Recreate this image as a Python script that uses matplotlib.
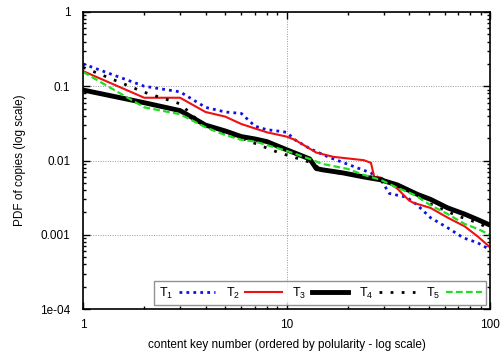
import matplotlib
matplotlib.use("Agg")
import matplotlib.pyplot as plt
from matplotlib.ticker import LogLocator, FixedLocator, FixedFormatter, NullFormatter

plt.rcParams["font.family"] = ["Liberation Sans", "DejaVu Sans"]
plt.rcParams["mathtext.fontset"] = "custom"
plt.rcParams["mathtext.rm"] = "Liberation Sans"
plt.rcParams["mathtext.it"] = "Liberation Sans"

# content keys (ordered by popularity) and PDF of copies per trace
k_t1 = [1, 2, 3, 4, 5, 6, 7, 8, 9, 10, 11, 13, 16, 20, 26, 29, 32, 39, 44, 51, 62, 74, 87, 100]
pdf_t1 = [0.20, 0.100, 0.084, 0.052, 0.045, 0.043, 0.029, 0.026, 0.025, 0.024, 0.019, 0.0145,
          0.0112, 0.0089, 0.0068, 0.0056, 0.0036, 0.0032, 0.0025, 0.0017, 0.00124, 0.00091,
          0.00078, 0.00063]

k_t2 = [1, 2, 3, 4, 5, 6, 7, 8, 10, 11, 14, 17, 24, 26, 27, 29, 35, 40, 42, 51, 62, 75, 87, 100]
pdf_t2 = [0.16, 0.070, 0.070, 0.045, 0.039, 0.031, 0.027, 0.024, 0.021, 0.019, 0.0128, 0.0112,
          0.0101, 0.0093, 0.0060, 0.0059, 0.0042, 0.0029, 0.0027, 0.0023, 0.0017, 0.0013,
          0.00095, 0.00068]

k_t3 = [1, 2, 3, 4, 5, 6, 7, 8, 10, 13, 14, 15, 19, 24, 29, 35, 44, 51, 62, 75, 87, 100]
pdf_t3 = [0.089, 0.060, 0.047, 0.030, 0.025, 0.021, 0.0195, 0.018, 0.014, 0.0105, 0.0078,
          0.0075, 0.0068, 0.0060, 0.0055, 0.0047, 0.0035, 0.0030, 0.0023, 0.0019, 0.0016, 0.00135]

k_t4 = [1, 2, 3, 4, 5, 6, 7, 9, 13, 15, 18, 29, 40, 51, 69, 87, 100]
pdf_t4 = [0.18, 0.083, 0.058, 0.028, 0.023, 0.020, 0.017, 0.013, 0.0095, 0.0075, 0.0068,
          0.0058, 0.0038, 0.0026, 0.0018, 0.00145, 0.0012]

k_t5 = [1, 2, 3, 4, 5, 6, 7, 10, 13, 15, 20, 24, 29, 35, 43, 51, 62, 75, 87, 100]
pdf_t5 = [0.156, 0.052, 0.042, 0.028, 0.022, 0.019, 0.018, 0.0135, 0.0105, 0.0090, 0.0077,
          0.0064, 0.0055, 0.0043, 0.0034, 0.0025, 0.0019, 0.0014, 0.0012, 0.0010]

labels = [r"T$_1$", r"T$_2$", r"T$_3$", r"T$_4$", r"T$_5$"]

fig = plt.figure(figsize=(5, 3.52), dpi=100)
ax = fig.add_axes([0.166, 0.122, 0.814, 0.844])

ax.plot(k_t1, pdf_t1, color="#1010e0", lw=2.0, ls=(0, (1, 1.5)), label=labels[0])
ax.plot(k_t2, pdf_t2, color="#ee1111", lw=1.5, ls="-", label=labels[1])
ax.plot(k_t3, pdf_t3, color="black", lw=3.5, ls="-", label=labels[2])
ax.plot(k_t4, pdf_t4, color="black", lw=2.0, ls=(0, (1, 3)), label=labels[3])
ax.plot(k_t5, pdf_t5, color="#22dd22", lw=1.6, ls=(0, (3, 1.5)), label=labels[4])

ax.set_xscale("log")
ax.set_yscale("log")
ax.set_xlim(1, 100)
ax.set_ylim(1e-4, 1)

ax.xaxis.set_major_locator(FixedLocator([1, 10, 100]))
ax.xaxis.set_major_formatter(FixedFormatter(["1", "10", "100"]))
ax.yaxis.set_major_locator(FixedLocator([1e-4, 1e-3, 1e-2, 1e-1, 1]))
ax.yaxis.set_major_formatter(FixedFormatter(["1e-04", "0.001", "0.01", "0.1", "1"]))
ax.xaxis.set_minor_locator(LogLocator(base=10, subs=range(2, 10)))
ax.yaxis.set_minor_locator(LogLocator(base=10, subs=range(2, 10)))
ax.xaxis.set_minor_formatter(NullFormatter())
ax.yaxis.set_minor_formatter(NullFormatter())

ax.tick_params(which="both", direction="in", top=True, right=True, labelsize=8.5,
               color="black", width=1.0)
ax.tick_params(which="major", length=5)
ax.tick_params(axis="x", which="major", pad=7)
ax.tick_params(axis="y", which="major", pad=9)
ax.tick_params(which="minor", length=2.5)

ax.grid(True, which="major", color="#999999", ls=(0, (1, 1.5)), lw=0.7)
for sp in ax.spines.values():
    sp.set_linewidth(1.2)
    sp.set_color("black")

ax.set_xlabel("content key number (ordered by polularity - log scale)", fontsize=8.5, labelpad=6)
ax.set_ylabel("PDF of copies (log scale)", fontsize=8.5, labelpad=10)

leg = ax.legend(loc="lower right", ncol=5, markerfirst=False, fancybox=False,
                fontsize=9, frameon=True, handlelength=2.9, columnspacing=0.85,
                handletextpad=0.45, borderaxespad=0.3, borderpad=0.35)
leg.get_frame().set_edgecolor("#777777")
leg.get_frame().set_linewidth(1.0)

fig.savefig("out.png", dpi=100)
